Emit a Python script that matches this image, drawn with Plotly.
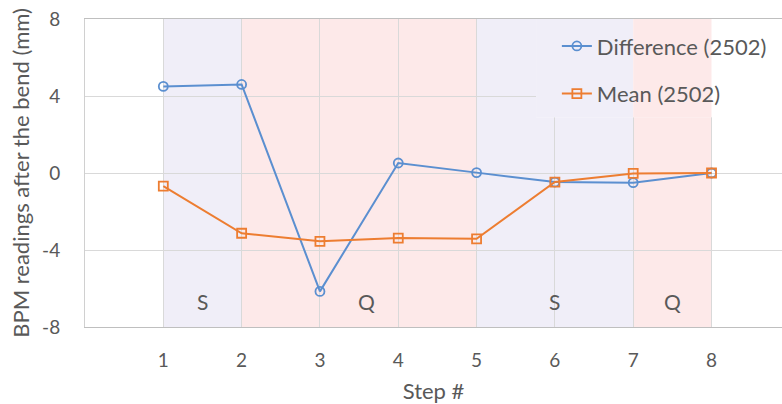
import plotly.graph_objects as go

steps = [1, 2, 3, 4, 5, 6, 7, 8]
step_labels = ["1", "2", "3", "4", "5", "6", "7", "8"]
difference = [4.5, 4.6, -6.15, 0.52, 0.02, -0.47, -0.5, 0.0]
mean_vals = [-0.68, -3.13, -3.55, -3.38, -3.42, -0.47, -0.02, 0.0]

# shaded phases
phase_start = [1, 2, 5, 7]
phase_end = [2, 5, 7, 8]
phase_label = ["S", "Q", "S", "Q"]
phase_label_x = [1.5, 3.6, 6.0, 7.5]
y_ticks = [-8, -4, 0, 4, 8]
y_tick_labels = ["-8", "-4", "0", "4", "8"]

BLUE = "#5b8fd0"
ORANGE = "#ed7d31"
LAV = "#f0eef8"
PINK = "#fde9e9"
GRID = "#d9d9d9"
TXT = "#595959"
FONT = "Lato"

fig = go.Figure()
fig.add_trace(go.Scatter(
    x=steps, y=difference, name="Difference (2502)", mode="lines+markers",
    line=dict(color=BLUE, width=2),
    marker=dict(symbol="circle-open", size=9, color=BLUE, line=dict(width=1.8, color=BLUE)),
    legendgroup="a"))
fig.add_trace(go.Scatter(
    x=steps, y=mean_vals, name="Mean (2502)", mode="lines+markers",
    line=dict(color=ORANGE, width=2),
    marker=dict(symbol="square-open", size=9, color=ORANGE, line=dict(width=1.8, color=ORANGE)),
    legendgroup="b"))

shapes = []
for s, e, lab in zip(phase_start, phase_end, phase_label):
    shapes.append(dict(type="rect", xref="x", yref="y", x0=s, x1=e, y0=-8, y1=8,
                       fillcolor=LAV if lab == "S" else PINK, line=dict(width=0), layer="below"))

# legend area: hide gridlines but keep shading
leg_x0, leg_y0 = 5.76, 2.9
shapes.append(dict(type="rect", xref="x", yref="y", x0=leg_x0, x1=9, y0=leg_y0, y1=8,
                   fillcolor="white", line=dict(width=0), layer="between"))
for s, e, lab in zip(phase_start, phase_end, phase_label):
    a, b = max(s, leg_x0), e
    if b > a:
        shapes.append(dict(type="rect", xref="x", yref="y", x0=a, x1=b, y0=leg_y0, y1=8,
                           fillcolor=LAV if lab == "S" else PINK, line=dict(width=0), layer="between"))

annotations = [dict(x=xx, y=-6.65, xref="x", yref="y", text=lab, showarrow=False,
                    font=dict(family=FONT, size=21, color=TXT))
               for xx, lab in zip(phase_label_x, phase_label)]

fig.update_layout(
    width=782, height=404,
    margin=dict(l=85, r=0, t=19, b=77),
    plot_bgcolor="white", paper_bgcolor="white",
    font=dict(family=FONT, color=TXT),
    shapes=shapes, annotations=annotations,
    legend=dict(x=0.677, y=0.98, xanchor="left", yanchor="top",
                bgcolor="rgba(0,0,0,0)", font=dict(family=FONT, size=22, color=TXT),
                traceorder="grouped", tracegroupgap=16),
    xaxis=dict(range=[0, 8.9], tickvals=steps, ticktext=step_labels, automargin=False,
               showgrid=True, gridcolor=GRID, gridwidth=1, zeroline=False,
               showline=True, linecolor="#bfbfbf", linewidth=1, mirror=True,
               ticks="", ticklabelstandoff=16,
               tickfont=dict(family=FONT, size=19, color=TXT),
               title=dict(text="Step #", standoff=21, font=dict(family=FONT, size=22, color=TXT))),
    yaxis=dict(range=[-8, 8], tickvals=y_ticks, ticktext=y_tick_labels, automargin=False,
               showgrid=True, gridcolor=GRID, gridwidth=1, zeroline=False,
               showline=True, linecolor="#d0d0d0", linewidth=1,
               ticks="", ticklabelstandoff=20,
               tickfont=dict(family=FONT, size=19, color=TXT),
               title=dict(text="BPM readings after the bend (mm)", standoff=6,
                          font=dict(family=FONT, size=22, color=TXT))),
)

fig.write_html("out.html", config={"displayModeBar": False},
               post_script="document.body.style.margin='0';document.body.style.padding='0';")
